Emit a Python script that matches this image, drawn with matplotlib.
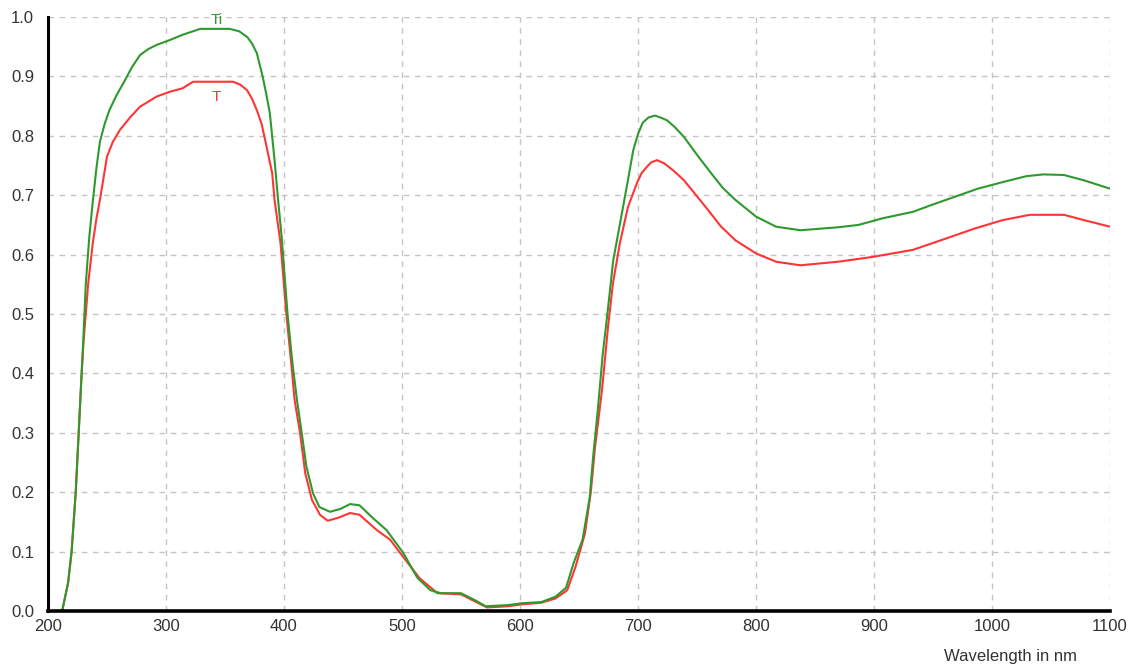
import matplotlib
matplotlib.use("Agg")
import matplotlib.pyplot as plt

# Ti curve (green)
wl_ti = [200, 212, 217, 220, 223.5, 226, 228.5, 230, 232, 235, 238, 241, 244, 248, 252, 258, 264,
         271, 278, 285, 292, 303, 314, 329, 354, 362, 369, 373, 377, 382, 385, 388, 392, 395, 398, 403, 407,
         411, 415, 419, 424.6, 430, 439, 448, 456, 464, 475, 487, 501, 513, 524, 533,
         550, 562, 571, 590, 601, 618, 630, 639, 645.5, 653, 659, 662, 666, 670,
         674.6, 679, 685, 691, 696, 700, 704, 709, 714.5, 720, 724.6, 731, 739, 750, 762, 772, 782.6, 800, 817,
         837.7, 869.6, 887, 907, 933, 948, 968, 988, 1009, 1029, 1043.5, 1061, 1078, 1100]
ti = [0, 0, 0.047, 0.10, 0.20, 0.30, 0.40, 0.46, 0.55, 0.63, 0.69, 0.745, 0.79, 0.82, 0.843, 0.868, 0.889,
      0.915, 0.936, 0.946, 0.953, 0.961, 0.970, 0.980, 0.980, 0.976, 0.966, 0.955, 0.939, 0.899, 0.87, 0.838, 0.759, 0.692, 0.63, 0.50, 0.42,
      0.355, 0.30, 0.243, 0.198, 0.175, 0.167, 0.172, 0.180, 0.178, 0.157, 0.136, 0.098, 0.056, 0.035, 0.030,
      0.030, 0.018, 0.008, 0.010, 0.013, 0.015, 0.024, 0.039, 0.081, 0.12, 0.19, 0.26, 0.34, 0.43,
      0.51, 0.59, 0.655, 0.72, 0.776, 0.803, 0.822, 0.831, 0.834, 0.830, 0.826, 0.815, 0.798, 0.768, 0.737, 0.712, 0.692, 0.664, 0.647,
      0.641, 0.646, 0.650, 0.661, 0.672, 0.683, 0.697, 0.711, 0.722, 0.732, 0.735, 0.734, 0.725, 0.711]

# T curve (red)
wl_t = [200, 212, 217, 220, 223.5, 226, 228.5, 230, 234, 238, 241, 244, 250, 255, 261, 270, 278, 292,
        303, 314, 323, 357, 363, 368.6, 373, 377, 381, 384, 390, 392, 397, 402, 406, 409, 413.6, 418,
        423.7, 430.5, 437, 446, 456, 464, 478.8, 490, 501, 515, 530, 550, 562, 572,
        590, 601, 618, 630, 640, 647, 655, 660, 663.6, 669.5, 674.6, 678.8, 684.7,
        691.5, 699, 703, 707.6, 711, 716, 722, 729.7, 739, 752.5, 759.4, 770, 782.6, 800, 817, 837.7,
        869.6, 898.6, 933, 956.5, 985.5, 1009, 1032, 1061, 1078, 1100]
t = [0, 0, 0.047, 0.10, 0.20, 0.30, 0.40, 0.45, 0.55, 0.62, 0.66, 0.692, 0.765, 0.79, 0.81, 0.832, 0.849, 0.866,
     0.874, 0.88, 0.891, 0.891, 0.886, 0.877, 0.862, 0.843, 0.82, 0.793, 0.737, 0.692, 0.62, 0.50, 0.42, 0.355, 0.30, 0.232,
     0.187, 0.162, 0.152, 0.157, 0.165, 0.162, 0.136, 0.12, 0.091, 0.055, 0.030, 0.028, 0.016, 0.006,
     0.008, 0.011, 0.014, 0.021, 0.035, 0.074, 0.13, 0.20, 0.276, 0.372, 0.478, 0.552, 0.62,
     0.68, 0.72, 0.737, 0.748, 0.755, 0.759, 0.754, 0.742, 0.725, 0.692, 0.675, 0.648, 0.624, 0.602, 0.588, 0.582,
     0.588, 0.596, 0.608, 0.624, 0.644, 0.658, 0.667, 0.667, 0.658, 0.647]

x_ticks = [200, 300, 400, 500, 600, 700, 800, 900, 1000, 1100]
y_ticks = [0.0, 0.1, 0.2, 0.3, 0.4, 0.5, 0.6, 0.7, 0.8, 0.9, 1.0]

plt.rcParams['font.family'] = ['Liberation Sans', 'DejaVu Sans']

fig = plt.figure(figsize=(11.34, 6.71), dpi=100)
ax = fig.add_axes([48/1134, 60/671, 1062/1134, 594/671])

green = '#2e9a2e'
red = '#ff3535'
ax.plot(wl_t, t, color=red, lw=1.5, zorder=3)
ax.plot(wl_ti, ti, color=green, lw=1.5, zorder=4)

ax.set_xlim(200, 1100)
ax.set_ylim(0, 1.0)
ax.set_xticks(x_ticks)
ax.set_yticks(y_ticks)
ax.set_xticklabels([str(v) for v in x_ticks])
ax.set_yticklabels(['%.1f' % v for v in y_ticks])
ax.tick_params(length=0, labelsize=12, labelcolor='#333333')
ax.tick_params(axis='y', pad=10)
ax.tick_params(axis='x', pad=6)

ax.grid(True, color='#c4c4c4', lw=1, linestyle=(0, (4, 4)))
for sp in ['top', 'right']:
    ax.spines[sp].set_visible(False)
ax.spines['left'].set_linewidth(2.2)
ax.spines['bottom'].set_linewidth(2.6)
ax.spines['left'].set_zorder(5)
ax.spines['bottom'].set_zorder(5)

# curve labels
ax.text(343, 0.995, 'Ti', color=green, fontsize=11, ha='center', va='center', clip_on=False)
ax.text(343, 0.865, 'T', color=red, fontsize=11, ha='center', va='center')

fig.text(1010/1134, 1 - 656/671, 'Wavelength in nm', fontsize=12, color='#333333',
         ha='center', va='center')

fig.savefig('out.png', dpi=100, facecolor='white')
